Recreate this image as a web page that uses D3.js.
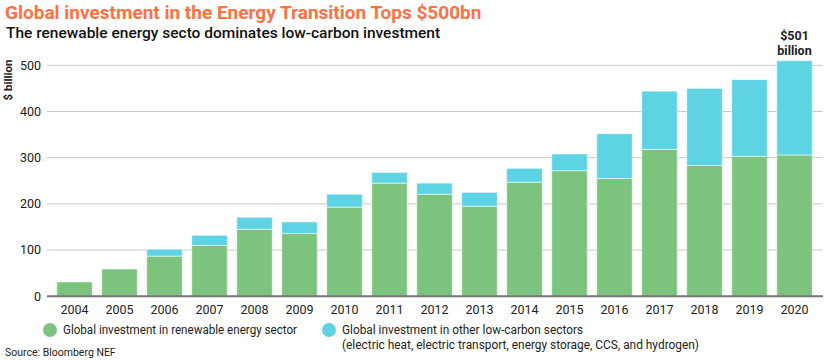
<!DOCTYPE html>
<html><head><meta charset="utf-8">
<script src="https://cdn.jsdelivr.net/npm/d3@7"></script>
<style>body{margin:0;background:#fff}svg{display:block}text{font-family:Roboto,"Noto Sans",sans-serif}</style>
</head><body><svg id="c" width="830" height="360"></svg>
<script>
const years = ["2004","2005","2006","2007","2008","2009","2010","2011","2012","2013","2014","2015","2016","2017","2018","2019","2020"];
const renewable = [31, 59, 87, 110, 145, 136, 193, 245, 221, 195, 247, 272, 255, 318, 283, 303, 306];
const other = [0, 0, 15, 22, 26, 25, 28, 23, 24, 30, 30, 36, 97, 126, 167, 166, 204];
const yTicks = [0, 100, 200, 300, 400, 500];
const seriesNames = ["Global investment in renewable energy sector", "Global investment in other low-carbon sectors"];
const colors = ["#7cc47e", "#5dd3e3"];

const svg = d3.select("#c");
const x = d3.scaleBand().domain(years).range([52, 817]).paddingInner(0.21).paddingOuter(0.105);
const y = d3.scaleLinear().domain([0, 500]).range([296.3, 65.3]);

function fit(sel, w) {
  const l = sel.node().getComputedTextLength();
  if (l > w) sel.attr("textLength", w).attr("lengthAdjust", "spacingAndGlyphs");
  return sel;
}

// gridlines
svg.append("g").selectAll("line").data(yTicks.filter(d => d > 0)).join("line")
  .attr("x1", 47).attr("x2", 823).attr("y1", d => y(d)).attr("y2", d => y(d))
  .attr("stroke", "#c8c8c8").attr("stroke-width", 1);

// y tick labels
svg.append("g").selectAll("text").data(yTicks).join("text")
  .attr("x", 41).attr("y", d => y(d)).attr("dy", "0.35em").attr("text-anchor", "end")
  .attr("font-size", 12.5).attr("fill", "#222").text(d => d);

// bars
const data = years.map((yr, i) => ({yr, r: renewable[i], o: other[i]}));
const g = svg.append("g");
g.selectAll("rect.r").data(data).join("rect").attr("class", "r")
  .attr("x", d => x(d.yr)).attr("width", x.bandwidth())
  .attr("y", d => y(d.r)).attr("height", d => y(0) - y(d.r))
  .attr("fill", colors[0]).attr("stroke", "rgba(255,255,255,0.55)").attr("stroke-width", 1);
g.selectAll("rect.o").data(data.filter(d => d.o > 0)).join("rect").attr("class", "o")
  .attr("x", d => x(d.yr)).attr("width", x.bandwidth())
  .attr("y", d => y(d.r + d.o)).attr("height", d => y(d.r) - y(d.r + d.o))
  .attr("fill", colors[1]).attr("stroke", "rgba(255,255,255,0.55)").attr("stroke-width", 1);

// baseline
svg.append("line").attr("x1", 47).attr("x2", 823).attr("y1", y(0)).attr("y2", y(0))
  .attr("stroke", "#767676").attr("stroke-width", 2);

// x labels
svg.append("g").selectAll("text").data(years).join("text")
  .attr("x", d => x(d) + x.bandwidth() / 2).attr("y", 314).attr("text-anchor", "middle")
  .attr("font-size", 12.5).attr("fill", "#222").text(d => d);

// annotation
const last = data[data.length - 1];
const ax = x(last.yr) + x.bandwidth() / 2;
svg.append("text").attr("x", ax).attr("y", 40).attr("text-anchor", "middle")
  .attr("font-size", 12.5).attr("font-weight", 700).attr("fill", "#222").text("$501");
svg.append("text").attr("x", ax).attr("y", 55).attr("text-anchor", "middle")
  .attr("font-size", 12.5).attr("font-weight", 700).attr("fill", "#222").text("billion");

// y axis title
svg.append("text").attr("transform", "translate(12,80) rotate(-90)").attr("text-anchor", "middle")
  .attr("font-size", 11.5).attr("font-weight", 700).attr("fill", "#222").text("$ billion");

// title
fit(svg.append("text").attr("x", 5).attr("y", 18.5).attr("font-size", 19)
  .attr("font-weight", 700).attr("fill", "#ff7043").text("Global investment in the Energy Transition Tops $500bn"), 492);
fit(svg.append("text").attr("x", 6).attr("y", 37.7).attr("font-size", 15.5)
  .attr("font-weight", 500).attr("fill", "#111").text("The renewable energy secto dominates low-carbon investment"), 436);

// legend
svg.append("circle").attr("cx", 50).attr("cy", 330).attr("r", 7).attr("fill", colors[0]);
fit(svg.append("text").attr("x", 63).attr("y", 330).attr("dy", "0.35em").attr("font-size", 12.5)
  .attr("fill", "#222").text(seriesNames[0]), 234);
svg.append("circle").attr("cx", 329).attr("cy", 330).attr("r", 7).attr("fill", colors[1]);
fit(svg.append("text").attr("x", 342).attr("y", 330).attr("dy", "0.35em").attr("font-size", 12.5)
  .attr("fill", "#222").text(seriesNames[1]), 241);
fit(svg.append("text").attr("x", 342).attr("y", 345).attr("dy", "0.35em").attr("font-size", 12.5)
  .attr("fill", "#222").text("(electric heat, electric transport, energy storage, CCS, and hydrogen)"), 357);

// source
svg.append("text").attr("x", 5).attr("y", 352).attr("dy", "0.35em").attr("font-size", 10.5)
  .attr("fill", "#222").text("Source: Bloomberg NEF");
</script></body></html>
